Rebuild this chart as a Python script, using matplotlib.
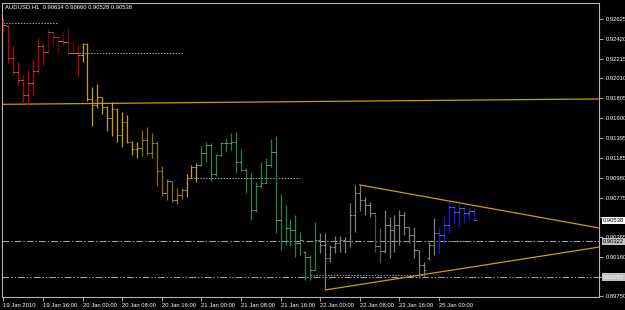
import numpy as np
import matplotlib.pyplot as plt

plt.rcParams['font.family'] = ['Liberation Sans', 'DejaVu Sans']

#### AUDUSD H1 bars ####################################################
opens = [0.92615, 0.92553, 0.92221, 0.92076, 0.91993, 0.91838, 0.91962, 0.92086,
         0.92345, 0.92283, 0.92490, 0.92439, 0.92397, 0.92387, 0.92273, 0.92273,
         0.92252, 0.92366, 0.91796, 0.91734, 0.91817, 0.91713, 0.91599, 0.91692,
         0.91423, 0.91558, 0.91350, 0.91278, 0.91288, 0.91371, 0.91236, 0.91340,
         0.91050, 0.90822, 0.90946, 0.90749, 0.90801, 0.90853, 0.90977, 0.91091,
         0.91112, 0.91236, 0.91319, 0.91019, 0.91216, 0.91340, 0.91340, 0.91350,
         0.91143, 0.91060, 0.90977, 0.90646, 0.90894, 0.90926, 0.91112, 0.91247,
         0.90542, 0.90325, 0.90459, 0.90439, 0.90304, 0.90211, 0.90159, 0.90024,
         0.90335, 0.90283, 0.90148, 0.90262, 0.90304, 0.90335, 0.90325, 0.90594,
         0.90822, 0.90749, 0.90698, 0.90615, 0.90273, 0.90221, 0.90490, 0.90439,
         0.90490, 0.90594, 0.90470, 0.90387, 0.90231, 0.90076, 0.90148, 0.90283,
         0.90407, 0.90387, 0.90490, 0.90677, 0.90625, 0.90667, 0.90615, 0.90634]
highs = [0.92635, 0.92563, 0.92345, 0.92180, 0.92045, 0.92097, 0.92211, 0.92428,
         0.92376, 0.92521, 0.92490, 0.92439, 0.92490, 0.92532, 0.92408, 0.92356,
         0.92376, 0.92376, 0.91920, 0.91952, 0.91817, 0.91723, 0.91765, 0.91703,
         0.91661, 0.91630, 0.91361, 0.91350, 0.91475, 0.91506, 0.91444, 0.91361,
         0.91102, 0.90967, 0.90946, 0.90874, 0.90874, 0.91019, 0.91112, 0.91133,
         0.91309, 0.91350, 0.91340, 0.91226, 0.91350, 0.91392, 0.91444, 0.91454,
         0.91278, 0.91081, 0.91029, 0.90936, 0.91143, 0.91185, 0.91381, 0.91413,
         0.90812, 0.90698, 0.90553, 0.90594, 0.90418, 0.90221, 0.90179, 0.90521,
         0.90407, 0.90407, 0.90283, 0.90376, 0.90376, 0.90366, 0.90718, 0.90905,
         0.90905, 0.90781, 0.90729, 0.90615, 0.90459, 0.90646, 0.90573, 0.90594,
         0.90646, 0.90625, 0.90470, 0.90470, 0.90231, 0.90107, 0.90314, 0.90563,
         0.90470, 0.90594, 0.90729, 0.90677, 0.90718, 0.90677, 0.90677, 0.90660]
lows = [0.92490, 0.92169, 0.92045, 0.91941, 0.91755, 0.91734, 0.91838, 0.92066,
        0.92148, 0.92273, 0.92356, 0.92273, 0.92345, 0.92252, 0.92252, 0.92034,
        0.92180, 0.91775, 0.91516, 0.91703, 0.91641, 0.91464, 0.91413, 0.91350,
        0.91299, 0.91340, 0.91216, 0.91185, 0.91205, 0.91216, 0.91185, 0.90894,
        0.90791, 0.90749, 0.90729, 0.90708, 0.90760, 0.90781, 0.90977, 0.90936,
        0.91102, 0.91143, 0.90946, 0.90998, 0.91205, 0.91247, 0.91268, 0.91029,
        0.91050, 0.90822, 0.90542, 0.90625, 0.90874, 0.90926, 0.91091, 0.90407,
        0.90231, 0.90283, 0.90273, 0.90159, 0.90179, 0.89918, 0.89918, 0.90024,
        0.90200, 0.89817, 0.90107, 0.90200, 0.90211, 0.90200, 0.90262, 0.90418,
        0.90635, 0.90594, 0.90573, 0.90211, 0.90096, 0.90200, 0.90148, 0.90211,
        0.90283, 0.90387, 0.90304, 0.90148, 0.89939, 0.89949, 0.90128, 0.90179,
        0.90200, 0.90304, 0.90407, 0.90511, 0.90470, 0.90511, 0.90542, 0.90528]
closes = [0.92563, 0.92221, 0.92076, 0.91993, 0.91838, 0.91962, 0.92086, 0.92345,
          0.92283, 0.92490, 0.92439, 0.92397, 0.92387, 0.92273, 0.92273, 0.92252,
          0.92366, 0.91796, 0.91734, 0.91817, 0.91713, 0.91599, 0.91692, 0.91423,
          0.91558, 0.91350, 0.91278, 0.91288, 0.91371, 0.91236, 0.91340, 0.91050,
          0.90822, 0.90946, 0.90749, 0.90801, 0.90853, 0.90977, 0.91091, 0.91112,
          0.91236, 0.91319, 0.91019, 0.91216, 0.91340, 0.91340, 0.91350, 0.91143,
          0.91060, 0.90977, 0.90646, 0.90894, 0.90926, 0.91112, 0.91247, 0.90542,
          0.90325, 0.90459, 0.90439, 0.90304, 0.90335, 0.90159, 0.90024, 0.90335,
          0.90283, 0.90148, 0.90262, 0.90304, 0.90335, 0.90325, 0.90594, 0.90822,
          0.90749, 0.90698, 0.90615, 0.90273, 0.90221, 0.90490, 0.90439, 0.90490,
          0.90594, 0.90470, 0.90387, 0.90231, 0.90076, 0.90024, 0.90283, 0.90407,
          0.90387, 0.90490, 0.90677, 0.90625, 0.90667, 0.90615, 0.90635, 0.90538]

# time axis labels every 8 bars
time_labels = ['19 Jan 2010', '19 Jan 16:00', '20 Jan 00:00', '20 Jan 08:00',
               '20 Jan 16:00', '21 Jan 00:00', '21 Jan 08:00', '21 Jan 16:00',
               '22 Jan 00:00', '22 Jan 08:00', '22 Jan 16:00', '25 Jan 00:00']
label_bars = [0, 8, 16, 24, 32, 40, 48, 56, 64, 72, 80, 88]

price_ticks = [0.92625, 0.92420, 0.92215, 0.92010, 0.91805, 0.91600, 0.91395,
               0.91185, 0.90980, 0.90775, 0.90570, 0.90365, 0.90160, 0.89955, 0.89750]
# these two sit under the highlighted labels in the terminal
hidden_ticks = [0.90570, 0.89955]

# short dashed levels: price, first bar, last bar
level_prices = [0.92584, 0.92273, 0.90977, 0.89972, 0.90322]
level_start = [0, 14, 38, 62, 88]
level_end = [11, 36, 60, 85, 94]

# full width levels
hline_dashdot = 0.90322
hline_dashdotdot = 0.89950

# trendlines: (bar, price) anchors
flat_line = [(0, 0.91741), (95, 0.91785)]
upper_line = [(72, 0.90905), (95, 0.90693)]
lower_line = [(65, 0.89817), (95, 0.90058)]

title = 'AUDUSD,H1  0.90634 0.90660 0.90528 0.90538'


fig = plt.figure(figsize=(6.25, 3.1), dpi=100, facecolor='black')
ax = fig.add_axes([2 / 625, 13 / 310, 597 / 625, 294 / 310], facecolor='black')

n = len(opens)
x = np.arange(n)

# colour of the bars (indicator state)
bar_colors = []
for i in range(n):
    if i < 9 or i == 15:
        bar_colors.append('#c00000')
    elif i < 15:
        bar_colors.append('#7a0000')
    elif i < 28 or 37 <= i < 40:
        bar_colors.append('#c8a000')
    elif i < 37:
        bar_colors.append('#8a7000')
    elif i < 64:
        bar_colors.append('#27824a')
    elif 75 <= i < 77:
        bar_colors.append('#505050')
    elif i < 88:
        bar_colors.append('#7c7c7c')
    else:
        bar_colors.append('#1414e6')

ax.vlines(x, lows, highs, colors=bar_colors, lw=0.9, zorder=3)
ax.hlines(opens, x - 0.45, x, colors='#8c8c8c', lw=0.7, zorder=3)
ax.hlines(closes, x, x + 0.45, colors='#8c8c8c', lw=0.7, zorder=3)

# price levels
for p, a, b in zip(level_prices, level_start, level_end):
    ax.plot([a, b], [p, p], color='#a0a0a0', lw=0.7, ls=(0, (1.5, 1.5)), zorder=2)
ax.axhline(hline_dashdot, color='#a8a8a8', lw=0.7, ls=(0, (7, 2, 1.5, 2)), zorder=1)
ax.axhline(hline_dashdotdot, color='#a8a8a8', lw=0.7, ls=(0, (7, 2, 1.5, 2, 1.5, 2)), zorder=1)

# trendlines
gold = '#c8a000'
ax.axline(flat_line[0], flat_line[1], color=gold, lw=0.9, zorder=2)
x_end = 125
for (x1, y1), (x2, y2) in [upper_line, lower_line]:
    slope = (y2 - y1) / (x2 - x1)
    ax.plot([x1, x_end], [y1, y1 + slope * (x_end - x1)], color=gold, lw=0.9, zorder=2)

ax.set_xlim(-0.26, 120.3)
ax.set_ylim(0.89744, 0.92791)

# axes look of the terminal
for s in ax.spines.values():
    s.set_color('#b4b4b4')
    s.set_linewidth(0.8)

ax.yaxis.tick_right()
ax.set_yticks(price_ticks)
ax.set_yticklabels(['' if p in hidden_ticks else '%.5f' % p for p in price_ticks])
ax.tick_params(axis='y', colors='#c8c8c8', labelcolor='white', length=3, width=0.6,
               labelsize=4.2, pad=1.5)
ax.set_xticks(label_bars)
ax.set_xticklabels(time_labels)
ax.tick_params(axis='x', colors='#c8c8c8', labelcolor='white', length=3, width=0.6,
               labelsize=4.2, pad=1)
for lbl in ax.get_xticklabels():
    lbl.set_horizontalalignment('left')

# highlighted price labels
tr = ax.get_yaxis_transform()
ax.text(1.007, closes[-1], '%.5f' % closes[-1], transform=tr, fontsize=4.2, color='black',
        va='center', ha='left', zorder=5,
        bbox=dict(boxstyle='square,pad=0.2', fc='white', ec='none'))
ax.text(1.007, hline_dashdot, '%.5f' % hline_dashdot, transform=tr, fontsize=4.2, color='black',
        va='center', ha='left', zorder=5,
        bbox=dict(boxstyle='square,pad=0.2', fc='#c0c0c0', ec='none'))
ax.text(1.007, hline_dashdotdot, '%.5f' % hline_dashdotdot, transform=tr, fontsize=4.2,
        color='#f0f0f0', va='center', ha='left', zorder=5,
        bbox=dict(boxstyle='square,pad=0.2', fc='#c0c0c0', ec='none'))

fig.text(5 / 625, 1 - 7 / 310, title, color='white', fontsize=4.2, va='center', ha='left')

fig.savefig('out.png', dpi=100, facecolor='black')
